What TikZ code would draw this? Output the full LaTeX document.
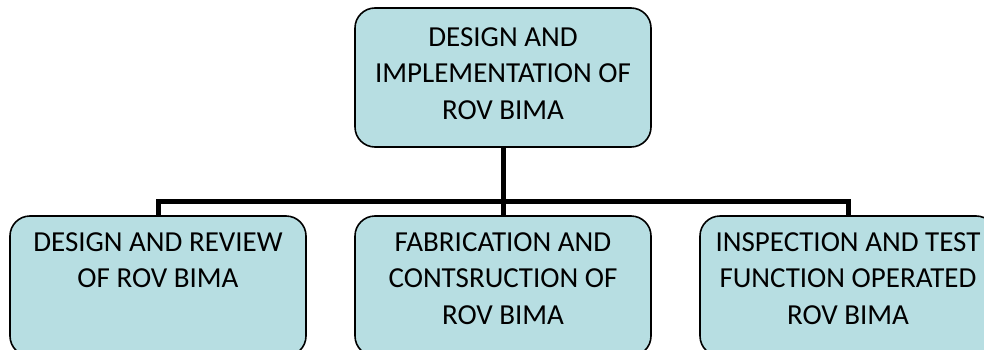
\documentclass[tikz,border=0pt]{standalone}
\usepackage{fontspec}
\setmainfont{Carlito}
\definecolor{boxfill}{RGB}{183,222,226}
\begin{document}
\begin{tikzpicture}[x=1pt,y=1pt,
  box/.style={draw=black, line width=1.6pt, fill=boxfill, rounded corners=20pt,
    minimum width=296pt, minimum height=140pt, inner sep=0pt},
  lbl/.style={align=center, inner sep=0pt, anchor=north,
    font=\fontsize{29}{36.5}\selectfont},
  bus/.style={line width=5pt, line join=miter}]
\useasboundingbox (0,0) rectangle (984,349);
\clip (0,0) rectangle (984,349);
\node[box, minimum height=139pt] (top) at (503,271.5) {};
\node[box] (b1) at (158,63) {};
\node[box] (b2) at (503,63) {};
\node[box] (b3) at (848,63) {};
\coordinate (hub) at (503,148);
\draw[bus] (top.south) -- (b2.north);
\draw[bus] (b1.north) |- (hub) -| (b3.north);
\node[lbl] (t0) at ([yshift=-20pt]top.north) {DESIGN AND\\IMPLEMENTATION OF\\ROV BIMA};
\node[lbl] (t1) at ([yshift=-17pt]b1.north) {DESIGN AND REVIEW\\OF ROV BIMA};
\node[lbl] (t2) at ([yshift=-17pt]b2.north) {FABRICATION AND\\CONTSRUCTION OF\\ROV BIMA};
\node[lbl] (t3) at ([yshift=-17pt]b3.north) {INSPECTION AND TEST\\FUNCTION OPERATED\\ROV BIMA};
\end{tikzpicture}
\end{document}
